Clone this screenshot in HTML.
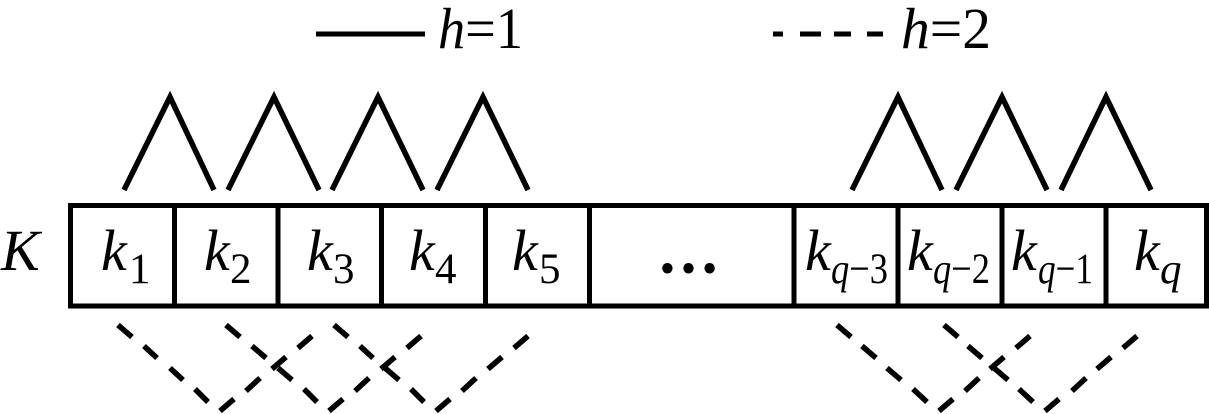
<!DOCTYPE html>
<html>
<head>
<meta charset="utf-8">
<style>
html,body{margin:0;padding:0;background:#fff;width:1209px;height:414px;overflow:hidden}
svg{display:block}
text{font-family:"Liberation Serif",serif;fill:#000;stroke:none}
.i{font-style:italic}
.k{font-style:italic;font-size:58px}
.s{font-size:43px}
.si{font-size:43px;font-style:italic}
</style>
</head>
<body>
<svg width="1209" height="414" viewBox="0 0 1209 414" xmlns="http://www.w3.org/2000/svg">
<!-- legend -->
<line x1="316" y1="34" x2="425" y2="34" stroke="#000" stroke-width="5"/>
<g stroke="#000" stroke-width="5">
<line x1="773" y1="34" x2="783" y2="34"/>
<line x1="800" y1="34" x2="821" y2="34"/>
<line x1="834" y1="34" x2="851" y2="34"/>
<line x1="867" y1="34" x2="883" y2="34"/>
</g>
<text x="438" y="48" font-size="58" textLength="85" lengthAdjust="spacingAndGlyphs"><tspan class="i">h</tspan>=1</text>
<text x="901" y="48" font-size="58" textLength="90" lengthAdjust="spacingAndGlyphs"><tspan class="i">h</tspan>=2</text>
<!-- solid peaks -->
<g fill="none" stroke="#000" stroke-width="5.5" stroke-linejoin="miter">
<polyline points="124,190 170,97 214,190"/>
<polyline points="228,190 274,97 319,190"/>
<polyline points="332,190 378,97 423,190"/>
<polyline points="437,190 483,97 528,190"/>
<polyline points="852,190 898,97 942,190"/>
<polyline points="956,190 1002,97 1047,190"/>
<polyline points="1061,190 1106,97 1151,190"/>
</g>
<!-- array -->
<rect x="70.5" y="205.5" width="1136" height="100.5" fill="none" stroke="#000" stroke-width="5"/>
<g stroke="#000" stroke-width="5">
<line x1="174.5" y1="205" x2="174.5" y2="306"/>
<line x1="278" y1="205" x2="278" y2="306"/>
<line x1="381.5" y1="205" x2="381.5" y2="306"/>
<line x1="485.5" y1="205" x2="485.5" y2="306"/>
<line x1="589.5" y1="205" x2="589.5" y2="306"/>
<line x1="794" y1="205" x2="794" y2="306"/>
<line x1="898" y1="205" x2="898" y2="306"/>
<line x1="1002" y1="205" x2="1002" y2="306"/>
<line x1="1106" y1="205" x2="1106" y2="306"/>
</g>
<!-- labels -->
<text x="1" y="270" font-size="58" class="i">K</text>
<text x="101" y="270" class="k">k</text><text x="129" y="283" class="s">1</text>
<text x="204" y="270" class="k">k</text><text x="230" y="283" class="s">2</text>
<text x="307" y="270" class="k">k</text><text x="333" y="283" class="s">3</text>
<text x="409" y="270" class="k">k</text><text x="435" y="283" class="s">4</text>
<text x="512" y="270" class="k">k</text><text x="539" y="283" class="s">5</text>
<text x="657" y="271" font-size="63" style="stroke:#000;stroke-width:3px">…</text>
<text x="805" y="270" class="k">k</text><text x="831" y="283" font-size="43" textLength="57" lengthAdjust="spacingAndGlyphs"><tspan class="i">q</tspan>−3</text>
<text x="907" y="270" class="k">k</text><text x="933" y="283" font-size="43" textLength="57" lengthAdjust="spacingAndGlyphs"><tspan class="i">q</tspan>−2</text>
<text x="1011" y="270" class="k">k</text><text x="1038" y="283" font-size="43" textLength="55" lengthAdjust="spacingAndGlyphs"><tspan class="i">q</tspan>−1</text>
<text x="1134" y="270" class="k">k</text><text x="1160" y="283" class="si">q</text>
<!-- dashed V shapes -->
<g stroke="#000" stroke-width="5.5">
<line x1="118" y1="325" x2="132" y2="337"/><line x1="144" y1="346" x2="157" y2="358"/><line x1="170" y1="368" x2="183" y2="380"/><line x1="195" y1="389" x2="208" y2="402"/>
<line x1="220" y1="411" x2="234" y2="399"/><line x1="246" y1="391" x2="260" y2="378"/><line x1="272" y1="369" x2="286" y2="357"/><line x1="298" y1="348" x2="312" y2="336"/>
<line x1="226" y1="325" x2="240" y2="337"/><line x1="252" y1="346" x2="266" y2="358"/><line x1="278" y1="368" x2="292" y2="380"/><line x1="304" y1="389" x2="317" y2="402"/>
<line x1="329" y1="411" x2="343" y2="399"/><line x1="355" y1="391" x2="369" y2="378"/><line x1="381" y1="369" x2="395" y2="357"/><line x1="407" y1="348" x2="421" y2="336"/>
<line x1="334" y1="325" x2="348" y2="337"/><line x1="360" y1="346" x2="373" y2="358"/><line x1="385" y1="368" x2="399" y2="380"/><line x1="411" y1="389" x2="424" y2="402"/>
<line x1="436" y1="411" x2="450" y2="399"/><line x1="462" y1="391" x2="476" y2="378"/><line x1="488" y1="369" x2="502" y2="357"/><line x1="514" y1="348" x2="528" y2="336"/>
<line x1="837" y1="325" x2="851" y2="337"/><line x1="862" y1="346" x2="876" y2="358"/><line x1="887" y1="368" x2="901" y2="380"/><line x1="913" y1="389" x2="927" y2="402"/>
<line x1="939" y1="411" x2="953" y2="399"/><line x1="965" y1="391" x2="979" y2="378"/><line x1="990" y1="369" x2="1004" y2="357"/><line x1="1016" y1="348" x2="1030" y2="336"/>
<line x1="944" y1="325" x2="958" y2="337"/><line x1="968" y1="346" x2="982" y2="358"/><line x1="994" y1="368" x2="1008" y2="380"/><line x1="1019" y1="389" x2="1033" y2="402"/>
<line x1="1045" y1="411" x2="1059" y2="399"/><line x1="1072" y1="391" x2="1086" y2="378"/><line x1="1097" y1="369" x2="1111" y2="357"/><line x1="1123" y1="348" x2="1137" y2="336"/>
</g>
</svg>
</body>
</html>
